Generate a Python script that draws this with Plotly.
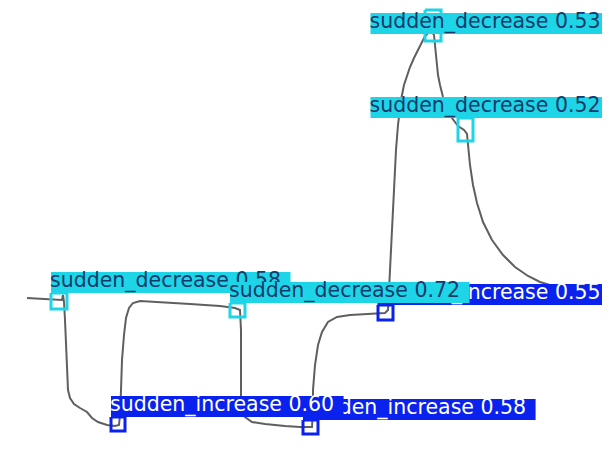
import plotly.graph_objects as go

# ---- data: traced series (x = time position, y = signal level, image-space units) ----
series_x = [27, 40, 55, 62, 63, 64, 65, 66, 67, 68, 70, 74, 80, 87, 92, 98, 107, 115, 119,
            120, 121, 122, 124, 126, 129, 133, 140, 160, 190, 220, 235, 240,
            241, 241, 241, 242, 245, 252, 265, 285, 300, 312,
            313, 313, 315, 318, 322, 328, 337, 350, 367, 385, 388,
            389, 390, 392, 394, 396, 398, 401, 404, 407, 410, 414, 418, 421, 424, 428, 432,
            434, 435, 436, 438, 440, 443, 447, 452, 458, 464, 467,
            468, 470, 473, 477, 483, 492, 503, 515, 528, 540, 553]
series_y = [298, 299, 300, 300, 295, 302, 320, 345, 370, 390, 398, 404, 408, 412, 418, 422, 425, 426, 425,
            415, 390, 360, 335, 318, 308, 303, 301, 302, 304, 306, 308, 310,
            330, 370, 400, 413, 417, 422, 424, 426, 427, 427,
            410, 390, 365, 345, 332, 322, 317, 315, 314, 313, 310,
            290, 260, 220, 180, 150, 125, 100, 85, 75, 67, 58, 50, 44, 38, 33, 32,
            35, 45, 60, 75, 85, 97, 108, 118, 126, 130, 134,
            145, 165, 185, 203, 222, 240, 255, 267, 276, 282, 286]

# ---- detections (drawing order) ----
det_labels = ["sudden_increase", "sudden_increase", "sudden_decrease", "sudden_increase",
              "sudden_decrease", "sudden_decrease", "sudden_decrease"]
det_scores = [0.58, 0.55, 0.58, 0.60, 0.72, 0.53, 0.52]
det_x0 = [303, 378, 51, 111, 230, 425, 458]
det_y0 = [420, 305, 293, 417, 303, 10, 118]
det_x1 = [318, 393, 67, 125, 245, 441, 473]
det_y1 = [434, 320, 309, 431, 317, 41, 141]

W, H = 610, 450
OFF = 8  # page body margin compensation
BAR_H = 21
colors = {"sudden_decrease": "#1DD5E6", "sudden_increase": "#0A22EE"}
text_colors = {"sudden_decrease": "#163A6C", "sudden_increase": "#FFFFFF"}
FONT = 20.5

# approximate DejaVu Sans advance widths (em)
adv = {"s": .521, "u": .634, "d": .635, "e": .615, "n": .634, "_": .5, "c": .55, "r": .411,
       "a": .613, "i": .278, " ": .318, ".": .318}


def text_w(t):
    return sum(adv.get(ch, .636) for ch in t) * FONT + 8


fig = go.Figure()
fig.add_trace(go.Scatter(x=series_x, y=series_y, mode="lines",
                         line=dict(color="#5F5F5F", width=2), hoverinfo="skip"))

for lab, sc, x0, y0, x1, y1 in zip(det_labels, det_scores, det_x0, det_y0, det_x1, det_y1):
    col = colors[lab]
    txt = f"{lab} {sc:.2f}"
    tw = text_w(txt)
    lx = min(x0, W - tw)
    if y0 - BAR_H >= 0:
        ly0, ly1 = y0 - BAR_H, y0
    else:
        ly0, ly1 = y0 + 3, y0 + 3 + BAR_H
    fig.add_trace(go.Scatter(x=[x0, x1, x1, x0, x0], y=[y0, y0, y1, y1, y0], mode="lines",
                             line=dict(color=col, width=3), hoverinfo="skip"))
    fig.add_trace(go.Scatter(x=[lx, lx + tw, lx + tw, lx, lx], y=[ly0, ly0, ly1, ly1, ly0],
                             mode="lines", fill="toself", fillcolor=col,
                             line=dict(color=col, width=0), hoverinfo="skip"))
    fig.add_trace(go.Scatter(x=[lx - 1], y=[(ly0 + ly1) / 2 - 1], mode="text", text=[txt],
                             textposition="middle right",
                             textfont=dict(family="DejaVu Sans", size=FONT, color=text_colors[lab]),
                             hoverinfo="skip"))

fig.update_layout(width=W, height=H, margin=dict(l=0, r=0, t=0, b=0),
                  paper_bgcolor="white", plot_bgcolor="white", showlegend=False)
fig.update_xaxes(range=[OFF, W + OFF], visible=False)
fig.update_yaxes(range=[H + OFF, OFF], visible=False)
fig.write_html("out.html")
